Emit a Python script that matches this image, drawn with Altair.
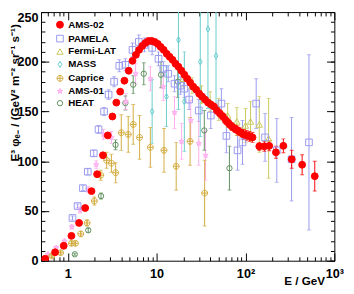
import altair as alt
import pandas as pd

series_names = ["AMS-02", "PAMELA", "Fermi-LAT", "MASS", "Caprice", "AMS-01", "HEAT"]

ams02_E = [0.557, 0.72, 0.90, 1.10, 1.34, 1.57, 1.85, 2.14, 2.49, 2.82, 3.18, 3.52, 3.89, 4.34,
           4.85, 5.35, 5.85, 6.35, 6.9, 7.5, 8.1, 8.8, 9.5, 10.3, 11.1, 12.0, 13.0, 14.0, 15.1,
           16.3, 17.6, 19.0, 20.5, 22.1, 23.9, 25.8, 27.9, 30.1, 32.5, 35.1, 37.9, 40.9, 44.2,
           47.7, 51.5, 55.6, 60.1, 64.9, 70.1, 75.7, 81.7, 88.3, 95.3, 103, 111, 120, 143, 163,
           185, 220, 267, 331, 434, 602]
ams02_v = [2, 8.5, 15, 25, 38, 53, 70, 87, 106, 126, 145, 159, 170, 181,
           191, 201, 207, 212, 216, 219, 221, 221, 220, 218, 215, 212, 208, 205, 202,
           198, 195, 191, 187, 183, 179, 175, 172, 168, 165, 162, 159, 157, 155,
           151, 148, 145, 141, 138, 135, 133, 131, 129, 127, 126, 125, 124, 115, 115,
           115.5, 109, 115.5, 102, 96.5, 85]
ams02_err = [1, 1, 1, 1, 1, 1.5, 1.5, 2, 2, 2, 2, 2, 2, 2,
             2, 2, 2, 2, 2, 2, 2, 2, 2, 2, 2, 2, 2, 2, 2,
             2, 2, 2, 2, 2, 2, 2.5, 2.5, 2.5, 3, 3, 3, 3, 3,
             3.5, 3.5, 3.5, 4, 4, 4, 4, 4.5, 4.5, 5, 5, 5, 5, 4, 5,
             5, 6, 7, 9, 10, 15]

pamela_E = [1.13, 1.29, 1.48, 1.68, 1.96, 2.22, 2.56, 2.88, 3.32, 3.8, 4.45, 5.35, 6.3, 7.3,
            8.9, 10.5, 11.9, 13.5, 15.9, 18.5, 20.5, 23.2, 29.8, 40.7, 53.6, 61, 81.5, 92.5,
            132, 166, 225, 330, 518]
pamela_v = [43, 55, 73, 89.5, 108, 132, 150, 167, 180, 196, 197, 212, 220, 217,
            214, 203, 193, 188, 178, 176, 173, 162, 151, 146, 158, 125.5, 111, 119,
            158, 124, 111, 102, 119]
pamela_err = [2, 2, 2.5, 3, 3, 4, 4, 5, 5, 6, 6, 7, 7, 7,
              7, 7, 7, 8, 8, 9, 9, 10, 11, 13, 15, 17, 20, 22,
              25, 24, 32, 42, 88]

fermi_E = [20, 25, 32, 40, 50, 63, 80, 100, 114, 143, 182]
fermi_v = [183, 176, 167, 160, 152, 146, 140, 136, 140, 137, 123]
fermi_err = [8, 8, 9, 10, 11, 12, 14, 17, 20, 28, 40]

mass_E = [8.9, 12.9, 17.6, 20.5, 31, 37.8, 46.6]
mass_v = [150, 165, 222, 160, 200, 233, 206]
mass_err = [32, 30, 70, 50, 75, 80, 50]

caprice_E = [0.66, 0.83, 1.10, 1.22, 1.40, 1.65, 1.99, 2.35, 2.74, 3.1, 3.46, 4.0, 4.79,
             5.45, 6.43, 8.5, 12.1, 16.6, 23.8, 34.7]
caprice_v = [4.8, 8, 17.5, 17.5, 27, 38, 60, 86, 101, 98, 88.5, 128.7, 127,
             137, 124, 114, 111, 95, 120, 68]
caprice_err = [1.5, 1.5, 2, 2, 2.5, 3, 4, 5, 8, 9, 10, 18, 18,
               20, 22, 20, 22, 24, 24, 33]

ams01_E = [0.60, 0.74, 0.92, 1.11, 1.38, 1.70, 2.09, 2.52, 3.1, 4.5, 5.8, 8.5, 11.9, 15.9,
           19.1, 24.2, 29.8, 35.5]
ams01_v = [6.5, 13, 19.5, 34, 51, 71.5, 96.5, 127, 124, 160, 188, 183, 175, 149,
           120, 141, 118, 106]
ams01_err = [1, 1.5, 2, 2, 3, 3, 4, 5, 6, 8, 10, 12, 14, 16,
             18, 20, 22, 25]

heat_E = [1.20, 1.70, 2.37, 3.45, 4.45, 5.45, 7.17, 11.2, 17.3, 34.4, 66]
heat_v = [6.5, 30.6, 65, 116.5, 158.6, 177, 188, 187, 180, 131, 93]
heat_err = [1, 2, 3, 5, 7, 9, 11, 13, 16, 20, 22]

x_major = [1, 10, 100, 1000]
y_major = [0, 50, 100, 150, 200, 250]

colors = ["#ff0000", "#9999ee", "#c8c85a", "#66cccc", "#d2aa3c", "#ffaaee", "#5f905f"]
fills = ["#ff0000", "transparent", "transparent", "transparent", "transparent", "#ffc4f2", "transparent"]
sizes = [50, 30, 24, 28, 30, 40, 28]
CAPRICE = "M-1,0A1,1,0,1,0,1,0A1,1,0,1,0,-1,0ZM-1,0L1,0M0,-1L0,1"
STAR = ("M0,-1L0.235,-0.324L0.951,-0.309L0.380,0.124L0.588,0.809L0,0.4L-0.588,0.809"
        "L-0.380,0.124L-0.951,-0.309L-0.235,-0.324Z")
THIN_DIAMOND = "M0,-1L0.6,0L0,1L-0.6,0Z"
shapes = ["circle", "square", "triangle-up", THIN_DIAMOND, CAPRICE, STAR, "circle"]

series_data = {
    "AMS-02": (ams02_E, ams02_v, ams02_err),
    "PAMELA": (pamela_E, pamela_v, pamela_err),
    "Fermi-LAT": (fermi_E, fermi_v, fermi_err),
    "MASS": (mass_E, mass_v, mass_err),
    "Caprice": (caprice_E, caprice_v, caprice_err),
    "AMS-01": (ams01_E, ams01_v, ams01_err),
    "HEAT": (heat_E, heat_v, heat_err),
}

frames = []
for name in reversed(series_names):
    E, v, err = series_data[name]
    frames.append(pd.DataFrame({
        "series": name, "E": E, "v": v,
        "lo": [a - b for a, b in zip(v, err)],
        "hi": [a + b for a, b in zip(v, err)],
    }))
df = pd.concat(frames, ignore_index=True)
caps = pd.concat([
    df[["series", "E", "lo"]].rename(columns={"lo": "c"}),
    df[["series", "E", "hi"]].rename(columns={"hi": "c"}),
], ignore_index=True)

FONT = "Liberation Sans Narrow, Liberation Sans, Arial, sans-serif"

xscale = alt.Scale(type="log", domain=[0.5, 1000], nice=False)
yscale = alt.Scale(domain=[0, 250], nice=False, zero=False)

x_minor = [m * 10.0 ** k for k in (-1, 0, 1, 2) for m in range(2, 10) if m * 10.0 ** k > 0.5]
y_minor = list(range(0, 251, 10))


def tick_axis(orient, values, size):
    return alt.Axis(orient=orient, values=values, offset=-size, tickSize=size, labels=False,
                    domain=False, grid=False, title="", tickColor="black", tickWidth=1)


x_label_axis = alt.Axis(
    orient="bottom", values=x_major,
    labelExpr="datum.value == 1 ? '1' : datum.value == 10 ? '10' : datum.value == 100 ? '10\u00b2' : '10\u00b3'",
    ticks=False, domain=False, grid=False, labelPadding=7, labelFont=FONT, labelFontSize=13,
    labelFontWeight="bold", labelColor="black", labelFlush=False, labelOverlap=False,
    title="E / GeV", titleFont=FONT, titleFontSize=12, titleFontWeight="bold", titleColor="black",
    titleAlign="right", titleBaseline="alphabetic", titleX=292, titleY=25)

y_label_axis = alt.Axis(
    orient="left", values=y_major, ticks=False, domain=False, grid=False, labelPadding=3,
    labelFont=FONT, labelFontSize=13, labelFontWeight="bold", labelColor="black",
    labelBaseline={"condition": {"test": "datum.value == 250", "value": "top"}, "value": "middle"},
    title="E\u00b3 \u03c6\u2091\u208b / (GeV\u00b2 m\u207b\u00b2 sr\u207b\u00b9 s\u207b\u00b9)",
    titleFont=FONT, titleFontSize=12, titleFontWeight="bold", titleColor="black",
    titleAngle=270, titleAlign="right", titleBaseline="bottom", titleX=-20, titleY=12)

# error-bar colour scale: same pairs, listed in another order so its (hidden) legend
# is not merged with the point legend
color_scale = alt.Scale(domain=list(reversed(series_names)), range=list(reversed(colors)))

rules = alt.Chart(df).mark_rule(strokeWidth=1, clip=True).encode(
    x=alt.X("E:Q", scale=xscale, axis=x_label_axis),
    y=alt.Y("lo:Q", scale=yscale, axis=y_label_axis),
    y2="hi:Q",
    color=alt.Color("series:N", scale=color_scale, legend=None),
)

cap_layer = alt.Chart(caps).mark_tick(orient="horizontal", size=4, thickness=1, clip=True).encode(
    x=alt.X("E:Q", scale=xscale, axis=None),
    y=alt.Y("c:Q", scale=yscale, axis=None),
    color=alt.Color("series:N", scale=color_scale, legend=None),
)

leg = alt.Legend(title=None, orient="none", legendX=14.5, legendY=8, labelFont=FONT,
                 labelFontSize=10, labelFontWeight="bold", labelColor="black",
                 symbolStrokeWidth=1, rowPadding=2.3, labelOffset=3.5, padding=0)

points = alt.Chart(df).mark_point(opacity=1, strokeWidth=1, clip=True).encode(
    x=alt.X("E:Q", scale=xscale, axis=tick_axis("bottom", x_major, 8)),
    y=alt.Y("v:Q", scale=yscale, axis=tick_axis("left", y_major, 8)),
    stroke=alt.Stroke("series:N", scale=alt.Scale(domain=series_names, range=colors), legend=leg),
    fill=alt.Fill("series:N", scale=alt.Scale(domain=series_names, range=fills), legend=leg),
    shape=alt.Shape("series:N", scale=alt.Scale(domain=series_names, range=shapes), legend=leg),
    size=alt.Size("series:N", scale=alt.Scale(domain=series_names, range=sizes), legend=leg),
)

t1 = alt.Chart(df).mark_point(opacity=0).encode(
    x=alt.X("E:Q", scale=xscale, axis=tick_axis("bottom", x_minor, 4)),
    y=alt.Y("v:Q", scale=yscale, axis=tick_axis("left", y_minor, 4)),
)
t2 = alt.Chart(df).mark_point(opacity=0).encode(
    x=alt.X("E:Q", scale=xscale, axis=tick_axis("top", x_major, 8)),
    y=alt.Y("v:Q", scale=yscale, axis=tick_axis("right", y_major, 8)),
)
t3 = alt.Chart(df).mark_point(opacity=0).encode(
    x=alt.X("E:Q", scale=xscale, axis=tick_axis("top", x_minor, 4)),
    y=alt.Y("v:Q", scale=yscale, axis=tick_axis("right", y_minor, 4)),
)

chart = alt.layer(rules, cap_layer, points, t1, t2, t3).resolve_axis(
    x="independent", y="independent"
).properties(
    width=302, height=256,
    autosize=alt.AutoSizeParams(type="none"),
    padding={"left": 34, "top": 0, "right": 12, "bottom": 28},
    background="white",
).configure_view(stroke="black", strokeWidth=1)

chart.save("out.html", embed_options={"renderer": "svg", "actions": False})
